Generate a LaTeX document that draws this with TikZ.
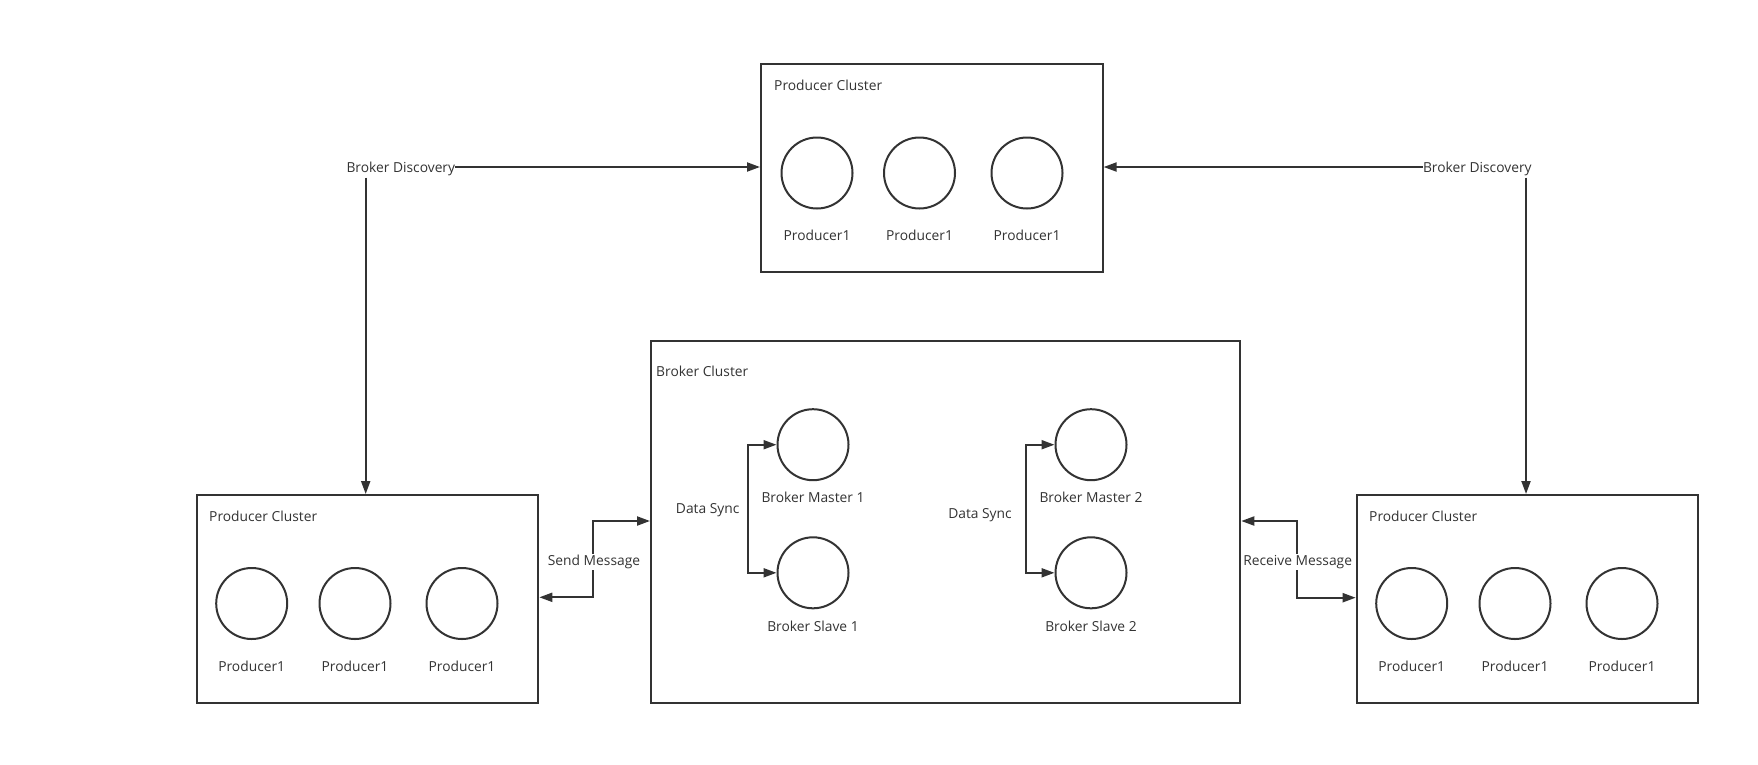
\documentclass[tikz,border=0pt]{standalone}
\usepackage{fontspec}
\setmainfont{Open Sans}
\usetikzlibrary{arrows.meta}
\definecolor{ink}{HTML}{333333}
\tikzset{
  box/.style={draw=ink, line width=2pt, inner sep=0pt, anchor=north west,
              minimum width=341.6pt, minimum height=208pt},
  bigbox/.style={draw=ink, line width=2pt, inner sep=0pt, anchor=north west},
  proc/.style={circle, draw=ink, line width=2pt, minimum size=71pt, inner sep=0pt},
  lbl/.style={text=ink, inner sep=1pt, yshift=-1pt, font=\fontsize{13.8}{16}\selectfont},
  lblw/.style={lbl, fill=white, inner sep=1pt},
  conn/.style={draw=ink, line width=2pt, -{Triangle[length=13pt,width=9pt]}},
  conn2/.style={draw=ink, line width=2pt, {Triangle[length=13pt,width=9pt]}-{Triangle[length=13pt,width=9pt]}}
}
\begin{document}
\begin{tikzpicture}[x=1pt,y=-1pt]
\useasboundingbox (0,0) rectangle (1758,764);
\fill[white] (0,0) rectangle (1758,764);

% Top producer cluster
\node[box] (top) at (760,62.7) {};
\node[lbl, anchor=west] (toplbl) at (773,84) {Producer Cluster};
\node[proc] (pt1) at (817,173) {};
\node[proc] (pt2) at (919.5,173) {};
\node[proc] (pt3) at (1027,173) {};
\node[lbl] (pt1l) at (817,234) {Producer1};
\node[lbl] (pt2l) at (919.5,234) {Producer1};
\node[lbl] (pt3l) at (1027,234) {Producer1};

% Left producer cluster
\node[box] (pl) at (195.7,494) {};
\node[lbl, anchor=west] (pllbl) at (208,515) {Producer Cluster};
\node[proc] (pl1) at (251.7,603.5) {};
\node[proc] (pl2) at (355,603.5) {};
\node[proc] (pl3) at (462,603.5) {};
\node[lbl] (pl1l) at (251.7,665) {Producer1};
\node[lbl] (pl2l) at (355,665) {Producer1};
\node[lbl] (pl3l) at (462,665) {Producer1};

% Right producer cluster
\node[box] (pr) at (1355.7,494) {};
\node[lbl, anchor=west] (prlbl) at (1368,515) {Producer Cluster};
\node[proc] (pr1) at (1411.7,603.5) {};
\node[proc] (pr2) at (1515,603.5) {};
\node[proc] (pr3) at (1622,603.5) {};
\node[lbl] (pr1l) at (1411.7,665) {Producer1};
\node[lbl] (pr2l) at (1515,665) {Producer1};
\node[lbl] (pr3l) at (1622,665) {Producer1};

% Broker cluster
\node[bigbox, minimum width=589.3pt, minimum height=361.7pt] (bc) at (650,340) {};
\node[lbl, anchor=west] (bclbl) at (655,370.7) {Broker Cluster};
\node[proc] (m1) at (813,444.7) {};
\node[proc] (s1) at (813,572.8) {};
\node[proc] (m2) at (1091,444.7) {};
\node[proc] (s2) at (1091,572.8) {};
\node[lbl] (m1l) at (813,496.7) {Broker Master 1};
\node[lbl] (s1l) at (813,625) {Broker Slave 1};
\node[lbl] (m2l) at (1091,496.7) {Broker Master 2};
\node[lbl] (s2l) at (1091,625) {Broker Slave 2};

% Data sync
\coordinate (ds1x) at (747.7,509);
\coordinate (ds2x) at (1026,514);
\draw[conn2] (m1.west) -- (m1.west -| ds1x) -- (s1.west -| ds1x) -- (s1.west);
\draw[conn2] (m2.west) -- (m2.west -| ds2x) -- (s2.west -| ds2x) -- (s2.west);
\node[lbl] (ds1) at (707.7,509) {Data Sync};
\node[lbl] (ds2) at (980,514) {Data Sync};

% Broker discovery
\node[lbl] (bdl) at (400.8,168) {Broker Discovery};
\node[lbl] (bdr) at (1477.3,168) {Broker Discovery};
\coordinate (bdlh) at (455,167);
\coordinate (bdrh) at (1422.7,167);
\draw[conn] (bdlh) -- (bdlh -| top.west);
\draw[conn] (bdrh) -- (bdrh -| top.east);
\coordinate (bdlv) at (365.7,177.7);
\coordinate (bdrv) at (1526,177.7);
\draw[conn] (bdlv) -- (bdlv |- pl.north);
\draw[conn] (bdrv) -- (bdrv |- pr.north);

% Send message
\coordinate (smA) at (593.3,597.3);
\coordinate (smB) at (593.3,521);
\draw[conn2] (smA -| pl.east) -- (smA) -- (smB) -- (smB -| bc.west);
\node[lblw] (sm) at (594,561) {Send Message};

% Receive message
\coordinate (rmA) at (1296.7,521);
\coordinate (rmB) at (1296.7,597.7);
\draw[conn2] (rmA -| bc.east) -- (rmA) -- (rmB) -- (rmB -| pr.west);
\node[lblw] (rm) at (1297.7,561) {Receive Message};
\end{tikzpicture}
\end{document}
